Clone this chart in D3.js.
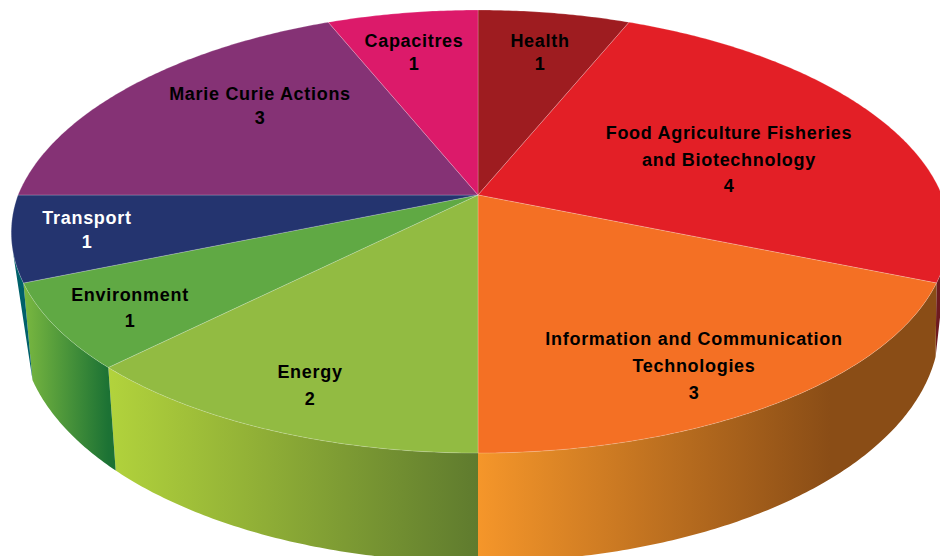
<!DOCTYPE html>
<html><head><meta charset="utf-8">
<script src="https://cdnjs.cloudflare.com/ajax/libs/d3/7.8.5/d3.min.js"></script>
<style>html,body{margin:0;padding:0;background:#fff;overflow:hidden}svg{display:block}
text{font-family:"Liberation Sans",Arial,sans-serif;font-weight:700;font-size:18px;letter-spacing:.7px;text-anchor:middle}</style>
</head><body><svg id="c" width="940" height="556"></svg>
<script>
const categories = ["Health","Food Agriculture Fisheries and Biotechnology","Information and Communication Technologies","Energy","Environment","Transport","Marie Curie Actions","Capacitres"];
const values = [1,4,3,2,1,1,3,1];
const labelLines = [["Health"],["Food Agriculture Fisheries","and Biotechnology"],["Information and Communication","Technologies"],["Energy"],["Environment"],["Transport"],["Marie Curie Actions"],["Capacitres"]];

// layout, separate from the data
const topColors = ["#9e1c20","#e31f26","#f47024","#92bb42","#60a944","#24346f","#853275","#dc1a6a"];
const wallStops = [null,["#6e1a1f","#6e1a1f"],["#f5962a","#8a4d16"],["#b2d33c","#5f7b2e"],["#7ab840","#1c7234"],["#00606a","#00606a"],null,null];
const labelAnchors = [[540,41],[729,133],[694,339],[310,372],[130,295],[87,218],[260,94],[414,41]];
const lineHeights = [23,26.5,27,27,26,24,24,23];
const textColors = ["#000","#000","#000","#000","#000","#fff","#000","#000"];

const W=940,H=556,cx=478,cy=195,Rl=460,Rr=464,S=215.5,k=-0.165,kxFar=-0.19,kxNear=-0.17,D=91,shrink=0.98;
const rad=d3.scaleLinear().domain([0,360]).range([0,2*Math.PI]);
const svg=d3.select("#c");
const defs=svg.append("defs");
const project=(a,lower)=>{
  const X=Math.sin(a),Y=-Math.cos(a),w=1+k*Y,wx=1+(Y<0?kxFar:kxNear)*Y;
  const px=(X<0?Rl:Rr)*X/wx, py=S*Y/w;
  return lower?[cx+px*shrink,cy+py+D/w]:[cx+px,cy+py];
};
const line=d3.line();
const sample=(a0,a1,lower)=>{
  const n=Math.max(2,Math.ceil(Math.abs(a1-a0)/0.01));
  return d3.range(n+1).map(i=>project(a0+(a1-a0)*i/n,lower));
};
const arcs=d3.pie().sort(null).value(d=>d).startAngle(0).endAngle(2*Math.PI)(values);

// outline of each visible side wall
const wallPoints=(d,i)=>{
  if(i===1){ // sliver behind the right silhouette
    return sample(rad(103.4),d.endAngle,false).concat([project(rad(107),true)]);
  }
  if(i===5){ // sliver behind the left silhouette
    return sample(d.startAngle,rad(256.6),false).concat([project(d.startAngle,true)]);
  }
  const lowEnd=i===2?rad(107):d.startAngle;
  return sample(d.startAngle,d.endAngle,false).concat(sample(d.endAngle,lowEnd,true));
};

arcs.forEach((d,i)=>{
  const st=wallStops[i]; if(!st) return;
  const top=sample(d.startAngle,d.endAngle,false);
  const id="wall"+i;
  const xs=top.map(p=>p[0]);
  const g=defs.append("linearGradient").attr("id",id).attr("gradientUnits","userSpaceOnUse")
    .attr("x1",d3.min(xs)).attr("x2",i===2?830:d3.max(xs)).attr("y1",0).attr("y2",0);
  g.append("stop").attr("offset",0).attr("stop-color",st[0]);
  g.append("stop").attr("offset",1).attr("stop-color",st[1]);
  svg.append("path").attr("d",line(wallPoints(d,i))+"Z").attr("fill",`url(#${id})`);
});

// wedge tops
arcs.forEach((d,i)=>{
  const pts=[[cx,cy]].concat(sample(d.startAngle,d.endAngle,false));
  svg.append("path").attr("d",line(pts)+"Z").attr("fill",topColors[i])
    .attr("stroke","rgba(255,255,255,.3)").attr("stroke-width",.7);
});

// labels
arcs.forEach((d,i)=>{
  const [x,y]=labelAnchors[i];
  const t=svg.append("text").attr("fill",textColors[i]);
  labelLines[i].concat([String(values[i])]).forEach((s,j)=>{
    t.append("tspan").attr("x",x).attr("y",y+6+j*lineHeights[i]).text(s);
  });
});
</script></body></html>
